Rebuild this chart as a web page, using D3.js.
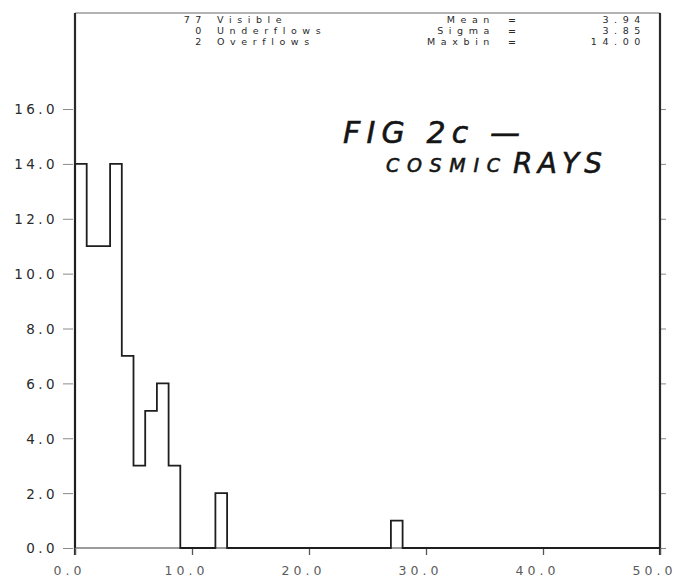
<!DOCTYPE html>
<html>
<head>
<meta charset="utf-8">
<script src="https://cdn.jsdelivr.net/npm/d3@7/dist/d3.min.js"></script>
<style>
  html, body { margin: 0; padding: 0; background: #fff; }
  svg { display: block; }
</style>
</head>
<body>
<svg id="chart" width="679" height="579"></svg>
<script>
// Histogram of cosmic-ray counts, unit-width bins from 0 to 50
const binCounts = [
  14, 11, 11, 14, 7, 3, 5, 6, 3, 0,
   0,  0,  2,  0, 0, 0, 0, 0, 0, 0,
   0,  0,  0,  0, 0, 0, 0, 1, 0, 0,
   0,  0,  0,  0, 0, 0, 0, 0, 0, 0,
   0,  0,  0,  0, 0, 0, 0, 0, 0, 0
];
const binWidth = 1;
const xTicks = [0, 10, 20, 30, 40, 50];
const yTicks = [0, 2, 4, 6, 8, 10, 12, 14, 16];

// Summary block printed at the top of the frame
const statCounts = ["77", "0", "2"];
const statNames = ["Visible", "Underflows", "Overflows"];
const statKeys = ["Mean", "Sigma", "Maxbin"];
const statValues = ["3.94", "3.85", "14.00"];

const titleLine1 = "FIG 2c —";
const titleLine2a = "COSMIC";
const titleLine2b = "RAYS";

const svg = d3.select("#chart");
const ink = "#1e1e1e";
const plotFont = "'DejaVu Sans', sans-serif";

const x = d3.scaleLinear().domain([0, 50]).range([75, 660]);
const y = d3.scaleLinear().domain([0, 19.5]).range([548, 13]);

// frame: top line, left and right axes
svg.append("line")
  .attr("x1", x(0)).attr("x2", x(50)).attr("y1", y(19.5)).attr("y2", y(19.5))
  .attr("stroke", "#6a6a6a").attr("stroke-width", 1.2);

// left axis with ticks pointing outward
const yLeft = d3.axisLeft(y).tickValues(yTicks).tickSize(12).tickPadding(5)
  .tickFormat(d3.format(".1f"));
const gl = svg.append("g").attr("transform", `translate(${x(0)},0)`).call(yLeft);
gl.select(".domain").remove();
gl.selectAll(".tick line").attr("stroke", "#8a8a8a").attr("stroke-width", 1)
  .attr("x2", -12).attr("x1", -2);
gl.selectAll(".tick text")
  .attr("font-family", plotFont).attr("font-size", 13.5)
  .attr("letter-spacing", 3.4).attr("fill", "#2a2a2a")
  .attr("dy", "0.36em");
svg.append("line")
  .attr("x1", x(0)).attr("x2", x(0)).attr("y1", y(19.5)).attr("y2", y(0) + 7)
  .attr("stroke", "#2a2a2a").attr("stroke-width", 2.2);

// right axis, ticks pointing outward, no labels
const yRight = d3.axisRight(y).tickValues(yTicks).tickSize(6).tickFormat("");
const gr = svg.append("g").attr("transform", `translate(${x(50)},0)`).call(yRight);
gr.select(".domain").remove();
gr.selectAll(".tick line").attr("stroke", "#8a8a8a").attr("stroke-width", 1);
svg.append("line")
  .attr("x1", x(50)).attr("x2", x(50)).attr("y1", y(19.5)).attr("y2", y(0) + 7)
  .attr("stroke", "#2a2a2a").attr("stroke-width", 2.2);

// bottom axis along the zero line
const xAxis = d3.axisBottom(x).tickValues(xTicks).tickSize(7).tickPadding(11)
  .tickFormat(d3.format(".1f"));
const gx = svg.append("g").attr("transform", `translate(0,${y(0)})`).call(xAxis);
gx.select(".domain").remove();
gx.selectAll(".tick line").attr("stroke", "#555").attr("stroke-width", 1.3);
gx.selectAll(".tick text")
  .attr("font-family", plotFont).attr("font-size", 12.5)
  .attr("letter-spacing", 4).attr("fill", "#5a5a5a")
  .attr("dx", -6);
svg.append("line")
  .attr("x1", x(0)).attr("x2", x(50)).attr("y1", y(0)).attr("y2", y(0))
  .attr("stroke", "#7a7a7a").attr("stroke-width", 1.3);

// step outline of the histogram
const pts = [[0, 0]];
binCounts.forEach((c, i) => pts.push([i * binWidth, c]));
pts.push([binCounts.length * binWidth, 0]);
const step = d3.line()
  .x(d => x(d[0])).y(d => y(d[1]))
  .curve(d3.curveStepAfter);
svg.append("path")
  .attr("d", step(pts))
  .attr("fill", "none")
  .attr("stroke", ink)
  .attr("stroke-width", 1.8);

// summary block
const rowY = [23, 34, 45];
const sg = svg.append("g")
  .attr("font-family", plotFont).attr("font-size", 9.5)
  .attr("fill", "#2a2a2a").attr("letter-spacing", 5.6);
sg.selectAll("text.cnt").data(statCounts).join("text").attr("class", "cnt")
  .attr("x", 207).attr("y", (d, i) => rowY[i]).attr("text-anchor", "end").text(d => d);
sg.selectAll("text.nm").data(statNames).join("text").attr("class", "nm")
  .attr("x", 217).attr("y", (d, i) => rowY[i]).text(d => d);
sg.selectAll("text.key").data(statKeys).join("text").attr("class", "key")
  .attr("x", 495).attr("y", (d, i) => rowY[i]).attr("text-anchor", "end").text(d => d);
sg.selectAll("text.eq").data(statKeys).join("text").attr("class", "eq")
  .attr("x", 512).attr("y", (d, i) => rowY[i]).attr("text-anchor", "middle")
  .attr("letter-spacing", 0).attr("font-weight", "bold").text("=");
sg.selectAll("text.val").data(statValues).join("text").attr("class", "val")
  .attr("x", 646).attr("y", (d, i) => rowY[i]).attr("text-anchor", "end").text(d => d);

// hand-lettered caption
const hand = svg.append("g")
  .attr("font-family", "'DejaVu Sans', sans-serif")
  .attr("font-style", "oblique")
  .attr("fill", "#151515").attr("stroke", "#151515").attr("stroke-width", 0.6);
hand.append("text")
  .attr("x", 343).attr("y", 143).attr("font-size", 30)
  .attr("textLength", 177).attr("lengthAdjust", "spacing")
  .text(titleLine1);
hand.append("text")
  .attr("x", 386).attr("y", 172).attr("font-size", 19)
  .attr("textLength", 114).attr("lengthAdjust", "spacing")
  .text(titleLine2a);
hand.append("text")
  .attr("x", 513).attr("y", 173).attr("font-size", 28)
  .attr("textLength", 89).attr("lengthAdjust", "spacing")
  .text(titleLine2b);
</script>
</body>
</html>
